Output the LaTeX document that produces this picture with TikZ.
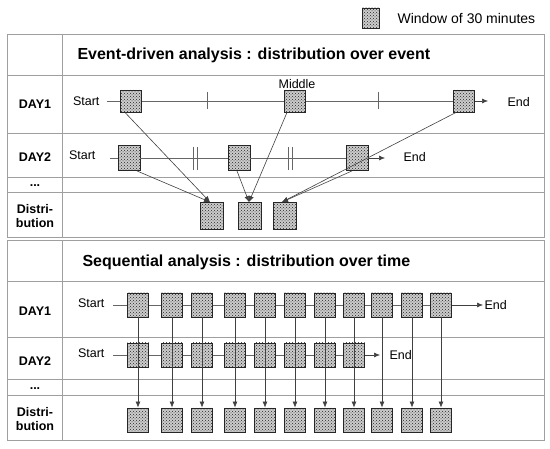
\documentclass[tikz,border=0pt]{standalone}
\usepackage{fontspec}
\setmainfont{Liberation Sans}
\usetikzlibrary{patterns,arrows.meta}
\begin{document}
\begin{tikzpicture}[x=1pt,y=-1pt,
  gridl/.style={draw=gray!75, line width=1pt},
  win/.style={draw=black!85, line width=0.9pt, fill=gray!40, inner sep=0pt,
    minimum width=21pt, minimum height=22pt,
    postaction={pattern=crosshatch dots, pattern color=black!85}},
  lbl/.style={font=\bfseries\fontsize{12.5}{14}\selectfont, align=center},
  txt/.style={font=\fontsize{12.5}{14}\selectfont},
  ttl/.style={font=\bfseries\fontsize{16}{18}\selectfont, anchor=west},
  arr/.style={-{Latex[length=6pt,width=5pt]}, draw=black!75, line width=0.6pt},
  tl/.style={draw=black!60, line width=0.6pt}
]
\useasboundingbox (0,0) rectangle (550,449);
% legend
\node[win, minimum width=17pt, minimum height=20pt] (leg) at (371,18) {};
\node[txt, anchor=west, font=\fontsize{14}{16}\selectfont] (legt) at (394,18) {Window of 30 minutes};

% ---------- top table ----------
\draw[gridl] (7,35) rectangle (544,238);
\draw[gridl] (62,35) -- (62,238);
\foreach \yy in {76,134,178,193} \draw[gridl] (7,\yy) -- (544,\yy);
\node[ttl] (t1) at (74,55) {Event-driven analysis : distribution over event};
\node[lbl] (r1) at (35,104) {DAY1};
\node[lbl] (r2) at (35,157) {DAY2};
\node[lbl] (r3) at (35,186) {...};
\node[lbl] (r4) at (35,216) {Distri-\\bution};

% DAY1 top
\node[txt, anchor=east] (s1) at (103,101) {Start};
\coordinate (l1s) at (107,101);
\node[win] (a1) at (131,101) {};
\node[win] (a2) at (295,101) {};
\node[win] (a3) at (464,101) {};
\coordinate (l1e) at (488,101);
\node[txt, anchor=west] (e1) at (504,102) {End};
\node[txt] (mid) at (297,84) {Middle};
\draw[tl] (l1s) -- (a1.west);
\draw[tl] (a1.east) -- (a2.west);
\draw[tl] (a2.east) -- (a3.west);
\draw[arr] (a3.east) -- (l1e);
\draw[tl] (207,92) -- (207,109);
\draw[tl] (378,92) -- (378,109);

% DAY2 top
\node[txt, anchor=east] (s2) at (99,155) {Start};
\coordinate (l2s) at (110,158);
\node[win, minimum width=22pt, minimum height=25pt] (b1) at (129,158) {};
\node[win, minimum width=22pt, minimum height=25pt] (b2) at (239,158) {};
\node[win, minimum width=22pt, minimum height=25pt] (b3) at (357,158) {};
\coordinate (l2e) at (385,158);
\node[txt, anchor=west] (e2) at (400,157) {End};
\draw[tl] (l2s) -- (b1.west);
\draw[tl] (b1.east) -- (b2.west);
\draw[tl] (b2.east) -- (b3.west);
\draw[arr] (b3.east) -- (l2e);
\draw[tl] (193,147) -- (193,170);
\draw[tl] (197,147) -- (197,170);
\draw[tl] (288,147) -- (288,170);
\draw[tl] (292,147) -- (292,170);

% distribution top
\node[win, minimum width=23pt, minimum height=27pt] (c1) at (212,216) {};
\node[win, minimum width=23pt, minimum height=27pt] (c2) at (250,216) {};
\node[win, minimum width=23pt, minimum height=27pt] (c3) at (285,216) {};
\draw[arr] ([xshift=-6pt]a1.south) -- ([xshift=-2pt]c1.north);
\draw[arr] ([xshift=8pt]b1.south) -- ([xshift=-2pt]c1.north);
\draw[arr] ([xshift=-8pt]a2.south) -- ([xshift=-1pt]c2.north);
\draw[arr] ([xshift=-2pt]b2.south) -- ([xshift=-1pt]c2.north);
\draw[arr] ([xshift=-8pt]a3.south) -- ([xshift=-3pt]c3.north);
\draw[arr] ([xshift=-5pt]b3.south) -- ([xshift=-3pt]c3.north);

% ---------- bottom table ----------
\draw[gridl] (7,241) rectangle (544,441);
\draw[gridl] (62,241) -- (62,441);
\foreach \yy in {282,338,380,396} \draw[gridl] (7,\yy) -- (544,\yy);
\node[ttl] (t2) at (79,262) {Sequential analysis : distribution over time};
\node[lbl] (q1) at (35,311) {DAY1};
\node[lbl] (q2) at (35,361) {DAY2};
\node[lbl] (q3) at (35,389) {...};
\node[lbl] (q4) at (35,419) {Distri-\\bution};

\node[txt, anchor=east] (s3) at (108,303) {Start};
\coordinate (m1s) at (113,305);
\node[txt, anchor=east] (s4) at (108,353) {Start};
\coordinate (m2s) at (113,355);

\foreach \i/\xx in {1/138,2/172,3/202,4/235,5/265,6/295,7/325,8/354,9/382,10/412,11/441} {
  \node[win, minimum height=24pt] (u\i) at (\xx,305) {};
  \node[win, minimum height=24pt] (d\i) at (\xx,420) {};
}
\foreach \i/\xx in {1/138,2/172,3/202,4/235,5/265,6/295,7/325,8/354} {
  \node[win, minimum height=24pt] (v\i) at (\xx,355) {};
}
\draw[tl] (m1s) -- (u1.west);
\foreach \i [evaluate=\i as \j using int(\i+1)] in {1,...,10} \draw[tl] (u\i.east) -- (u\j.west);
\coordinate (m1e) at (483,305);
\draw[arr] (u11.east) -- (m1e);
\node[txt, anchor=west] (e3) at (481,305) {End};

\draw[tl] (m2s) -- (v1.west);
\foreach \i [evaluate=\i as \j using int(\i+1)] in {1,...,7} \draw[tl] (v\i.east) -- (v\j.west);
\coordinate (m2e) at (380,355);
\draw[arr] (v8.east) -- (m2e);
\node[txt, anchor=west] (e4) at (386,355) {End};

\foreach \i in {1,...,11} \draw[arr] (u\i.south) -- (d\i.north);
\end{tikzpicture}
\end{document}
